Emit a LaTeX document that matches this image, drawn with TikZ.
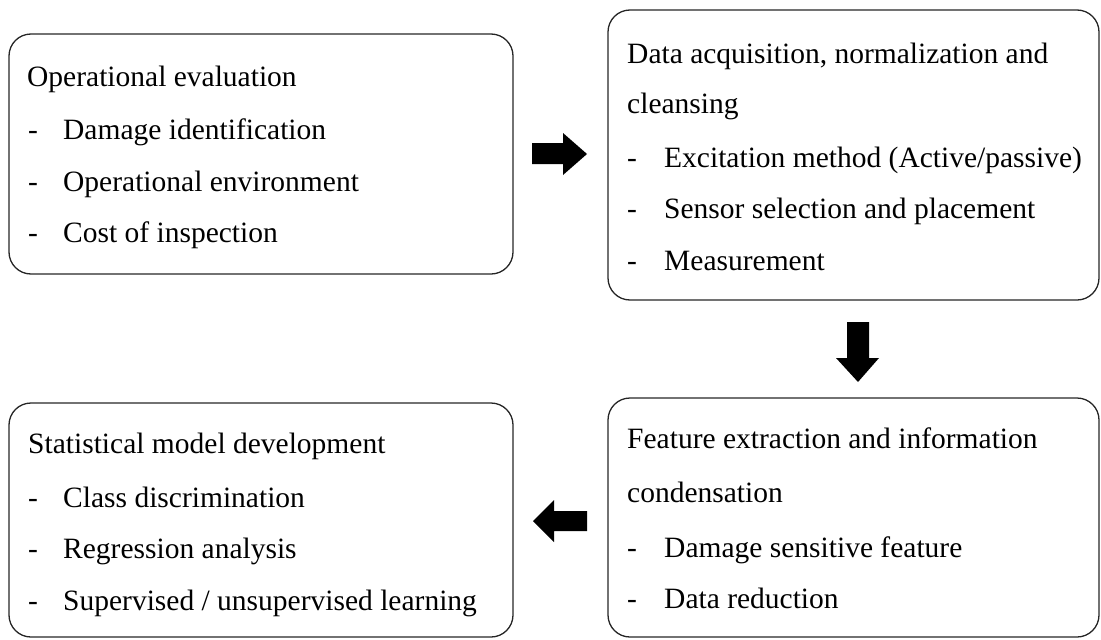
\documentclass[tikz,border=0pt]{standalone}
\usepackage{fontspec}
\setmainfont{Liberation Serif}
\begin{document}
\begin{tikzpicture}[x=1pt,y=-1pt,
  box/.style={draw=black!85,line width=1.3pt,rounded corners=22pt,inner sep=0pt},
  txt/.style={anchor=base west,inner sep=0pt,font=\fontsize{29.5}{35}\selectfont},
  blk/.style={fill=black,draw=none}]
\useasboundingbox (0,0) rectangle (1101,640);
% boxes
\node[box,minimum width=504pt,minimum height=240pt] (b1) at (261,154) {};
\node[box,minimum width=491pt,minimum height=290pt] (b2) at (853.5,155) {};
\node[box,minimum width=491pt,minimum height=239pt] (b3) at (853.5,517.5) {};
\node[box,minimum width=504pt,minimum height=234pt] (b4) at (261,520) {};
% box 1 text
\node[txt] (t1) at (27,86.7) {Operational evaluation};
\node[txt] (d11) at (28,139) {-};  \node[txt] (i11) at (63,139) {Damage identification};
\node[txt] (d12) at (28,191) {-};  \node[txt] (i12) at (63,191) {Operational environment};
\node[txt] (d13) at (28,242) {-};  \node[txt] (i13) at (63,242) {Cost of inspection};
% box 2 text
\node[txt] (t2a) at (627,63) {Data acquisition, normalization and};
\node[txt] (t2b) at (627,113) {cleansing};
\node[txt] (d21) at (627,167) {-}; \node[txt] (i21) at (664,167) {Excitation method (Active/passive)};
\node[txt] (d22) at (627,218) {-}; \node[txt] (i22) at (664,218) {Sensor selection and placement};
\node[txt] (d23) at (627,270) {-}; \node[txt] (i23) at (664,270) {Measurement};
% box 3 text
\node[txt] (t3a) at (627,448) {Feature extraction and information};
\node[txt] (t3b) at (627,502) {condensation};
\node[txt] (d31) at (627,557) {-}; \node[txt] (i31) at (664,557) {Damage sensitive feature};
\node[txt] (d32) at (627,608) {-}; \node[txt] (i32) at (664,608) {Data reduction};
% box 4 text
\node[txt] (t4) at (28,453) {Statistical model development};
\node[txt] (d41) at (28,507) {-}; \node[txt] (i41) at (63,507) {Class discrimination};
\node[txt] (d42) at (28,558) {-}; \node[txt] (i42) at (63,558) {Regression analysis};
\node[txt] (d43) at (28,610) {-}; \node[txt] (i43) at (63,610) {Supervised / unsupervised learning};
% block arrows
\fill[blk] (532,143) -- (563,143) -- (563,133) -- (587,154) -- (563,175) -- (563,164) -- (532,164) -- cycle;
\fill[blk] (847,322) -- (869,322) -- (869,358) -- (879,358) -- (858,382) -- (836,358) -- (847,358) -- cycle;
\fill[blk] (587,511) -- (554,511) -- (554,500) -- (533,521) -- (554,542) -- (554,531) -- (587,531) -- cycle;
\end{tikzpicture}
\end{document}
